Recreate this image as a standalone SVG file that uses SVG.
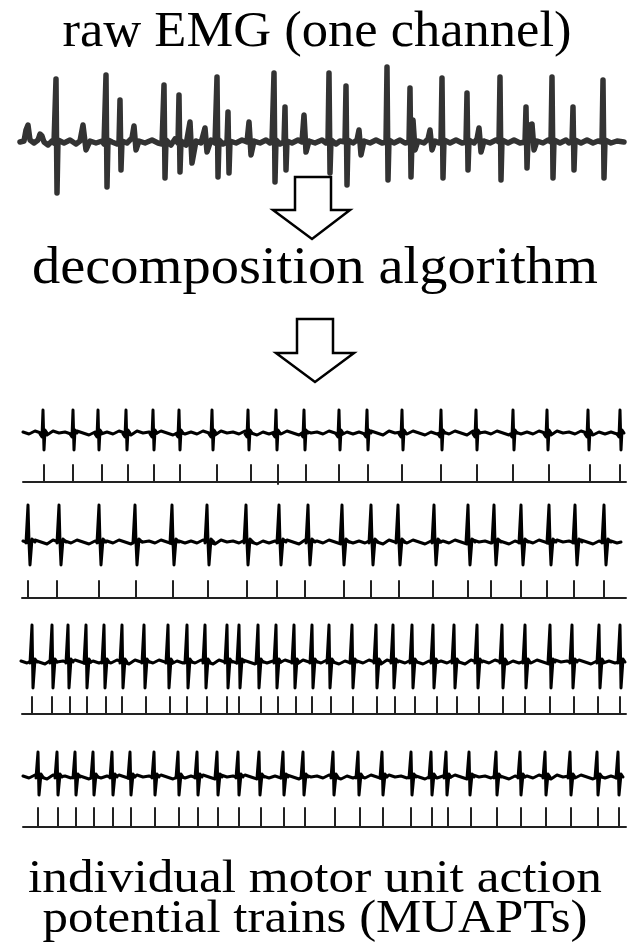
<svg xmlns="http://www.w3.org/2000/svg" xmlns:xlink="http://www.w3.org/1999/xlink" width="628" height="946" viewBox="0 0 628 946">
<style>
.lbl{font-family:"Liberation Serif","Times New Roman",serif;fill:#000;text-anchor:middle}
.emg{fill:none;stroke:#333;stroke-width:5.5;stroke-linejoin:round;stroke-linecap:round}
.tr{fill:none;stroke:#000;stroke-width:3;stroke-linejoin:round;stroke-linecap:round}
.tk{fill:none;stroke:#222;stroke-width:2}
.blk{fill:#fff;stroke:#000;stroke-width:2.5;stroke-linejoin:miter}
</style>
<defs>
<path id="noise" d="M0,-1 L6,1 L12,-2 L18,0 L24,2 L30,-2 L36,0 L42,-1 L48,1 L54,-2 L60,0 L66,2 L72,-1 L78,1 L84,-1 L90,1 L96,-2 L102,0 L108,2 L114,-2 L120,0 L126,-1 L132,1 L138,-2 L144,0 L150,2 L156,-1 L162,1 L168,-1 L174,1 L180,-2 L186,0 L192,2 L198,-2 L204,0 L210,-1 L216,1 L222,-2 L228,0 L234,2 L240,-1 L246,1 L252,-1 L258,1 L264,-2 L270,0 L276,2 L282,-2 L288,0 L294,-1 L300,1 L306,-2 L312,0 L318,2 L324,-1 L330,1 L336,-1 L342,1 L348,-2 L354,0 L360,2 L366,-2 L372,0 L378,-1 L384,1 L390,-2 L396,0 L402,2 L408,-1 L414,1 L420,-1 L426,1 L432,-2 L438,0 L444,2 L450,-2 L456,0 L462,-1 L468,1 L474,-2 L480,0 L486,2 L492,-1 L498,1 L504,-1 L510,1 L516,-2 L522,0 L528,2 L534,-2 L540,0 L546,-1 L552,1 L558,-2 L564,0 L570,2 L576,-1 L582,1 L588,-1 L594,1 L598,0"/>
<path id="sp1" d="M-3,1 L-1,4 L0,-23 L1,17 L2,-3 L4,0"/>
<path id="sp2" d="M-2,1 L0,-37 L1,0 L2,23 L4,-3 L7,0"/>
<path id="sp3" d="M-2,1 L0,-37 L1,26 L3,-3 L5,0"/>
<path id="sp4" d="M-2,1 L0,-25 L1,18 L3,-3 L5,0"/>
</defs>
<rect width="628" height="946" fill="#fff"/>

<g id="title"><text class="lbl" x="317" y="46" font-size="51" textLength="509" lengthAdjust="spacingAndGlyphs">raw EMG (one channel)</text></g>

<g id="raw-emg">
<path class="emg" d="M20,142 L24,141 L26,130 L28,125 L30,140 L34,143 L38,140 L40,134 L42,136 L44,142 L48,145 L52,141 L54,143 L56,79 L57,193 L58,140 L64,143 L70,140 L76,144 L80,141 L83,125 L86,150 L90,141 L96,143 L102,141 L104,144 L106,75 L107,187 L108,140 L112,142 L117,144 L119,142 L120,100 L121,170 L122,141 L127,143 L132,138 L134,126 L136,150 L139,141 L145,143 L152,140 L158,143 L162,144 L164,85 L165,178 L166,140 L171,145 L175,139 L178,143 L179,95 L180,172 L181,141 L186,145 L190,122 L192,163 L196,141 L201,143 L205,128 L207,152 L211,140 L215,143 L217,77 L218,177 L219,140 L223,144 L227,142 L228,112 L229,173 L230,141 L236,143 L242,140 L247,142 L249,122 L251,155 L254,141 L260,143 L266,140 L270,143 L272,142 L274,73 L275,182 L276,140 L280,144 L284,142 L285,107 L286,170 L287,141 L292,143 L298,140 L302,142 L304,115 L306,152 L309,141 L315,143 L322,140 L326,143 L328,142 L329,73 L330,173 L331,140 L336,144 L340,141 L345,142 L346,86 L347,185 L348,140 L353,143 L357,140 L359,130 L361,155 L364,141 L370,143 L376,140 L382,143 L386,142 L387,67 L388,180 L389,140 L394,143 L400,140 L405,143 L409,142 L410,88 L411,177 L412,140 L413,120 L415,150 L418,141 L424,143 L428,139 L430,130 L432,150 L435,141 L439,143 L441,142 L442,78 L443,178 L444,140 L450,143 L456,140 L462,143 L466,142 L467,93 L468,170 L469,140 L474,143 L477,139 L479,128 L481,152 L484,141 L490,143 L496,140 L499,142 L500,77 L501,180 L502,140 L508,143 L514,140 L520,143 L525,142 L526,107 L527,168 L528,140 L530,125 L532,124 L534,150 L537,141 L543,143 L548,140 L551,142 L552,77 L553,178 L554,140 L560,143 L566,140 L569,143 L572,142 L573,107 L574,170 L575,140 L581,143 L587,140 L593,143 L598,141 L602,142 L603,80 L604,178 L605,140 L611,143 L617,141 L624,142"/>
</g>

<g id="decomposition"><text class="lbl" x="315" y="283" font-size="53" textLength="566" lengthAdjust="spacingAndGlyphs">decomposition algorithm</text></g>

<g id="connectors">
<polygon id="arrow1" class="blk" points="295,177 331,177 331,210 350,210 312,239 273,210 295,210"/>
<polygon id="arrow2" class="blk" points="297,319 333,319 333,353 354,353 315,382 276,353 297,353"/>
</g>

<g id="train1" class="tr">
<use href="#noise" x="23" y="433"/>
<use href="#sp1" x="43" y="433"/><use href="#sp1" x="73" y="433"/><use href="#sp1" x="98" y="433"/><use href="#sp1" x="126" y="433"/><use href="#sp1" x="153" y="433"/><use href="#sp1" x="179" y="433"/><use href="#sp1" x="212" y="433"/><use href="#sp1" x="248" y="433"/><use href="#sp1" x="276" y="433"/><use href="#sp1" x="304" y="433"/><use href="#sp1" x="339" y="433"/><use href="#sp1" x="367" y="433"/><use href="#sp1" x="402" y="433"/><use href="#sp1" x="441" y="433"/><use href="#sp1" x="476" y="433"/><use href="#sp1" x="513" y="433"/><use href="#sp1" x="547" y="433"/><use href="#sp1" x="588" y="433"/><use href="#sp1" x="620" y="433"/>
<path class="tk" d="M23,482 H626 M44,465 V482 M73,465 V482 M102,465 V482 M128,465 V482 M154,465 V482 M180,465 V482 M217,465 V482 M251,465 V482 M278,465 V484 M306,465 V482 M339,465 V482 M368,465 V482 M402,465 V482 M441,465 V482 M477,465 V482 M513,465 V482 M549,465 V482 M590,465 V482 M620,465 V482"/>
</g>

<g id="train2" class="tr">
<use href="#noise" x="23" y="542"/>
<use href="#sp2" x="28" y="542"/><use href="#sp2" x="59" y="542"/><use href="#sp2" x="99" y="542"/><use href="#sp2" x="135" y="542"/><use href="#sp2" x="172" y="542"/><use href="#sp2" x="207" y="542"/><use href="#sp2" x="246" y="542"/><use href="#sp2" x="279" y="542"/><use href="#sp2" x="308" y="542"/><use href="#sp2" x="342" y="542"/><use href="#sp2" x="371" y="542"/><use href="#sp2" x="398" y="542"/><use href="#sp2" x="434" y="542"/><use href="#sp2" x="468" y="542"/><use href="#sp2" x="494" y="542"/><use href="#sp2" x="521" y="542"/><use href="#sp2" x="549" y="542"/><use href="#sp2" x="575" y="542"/><use href="#sp2" x="604" y="542"/>
<path class="tk" d="M22,598 H626 M28,581 V598 M57,581 V598 M99,581 V598 M136,581 V598 M173,581 V598 M208,581 V598 M247,581 V598 M277,581 V598 M305,581 V598 M344,581 V598 M371,581 V598 M399,581 V598 M433,581 V598 M468,581 V598 M491,581 V598 M521,581 V598 M547,581 V598 M574,581 V598 M604,581 V598"/>
</g>

<g id="train3" class="tr">
<use href="#noise" x="21" y="662"/>
<use href="#sp3" x="32" y="662"/><use href="#sp3" x="52" y="662"/><use href="#sp3" x="68" y="662"/><use href="#sp3" x="86" y="662"/><use href="#sp3" x="104" y="662"/><use href="#sp3" x="122" y="662"/><use href="#sp3" x="144" y="662"/><use href="#sp3" x="168" y="662"/><use href="#sp3" x="187" y="662"/><use href="#sp3" x="205" y="662"/><use href="#sp3" x="227" y="662"/><use href="#sp3" x="239" y="662"/><use href="#sp3" x="258" y="662"/><use href="#sp3" x="276" y="662"/><use href="#sp3" x="294" y="662"/><use href="#sp3" x="312" y="662"/><use href="#sp3" x="329" y="662"/><use href="#sp3" x="352" y="662"/><use href="#sp3" x="376" y="662"/><use href="#sp3" x="393" y="662"/><use href="#sp3" x="412" y="662"/><use href="#sp3" x="433" y="662"/><use href="#sp3" x="454" y="662"/><use href="#sp3" x="477" y="662"/><use href="#sp3" x="502" y="662"/><use href="#sp3" x="525" y="662"/><use href="#sp3" x="550" y="662"/><use href="#sp3" x="572" y="662"/><use href="#sp3" x="599" y="662"/><use href="#sp3" x="620" y="662"/>
<path class="tk" d="M22,714 H626 M32,697 V714 M52,697 V714 M70,697 V714 M87,697 V714 M106,697 V714 M122,697 V714 M146,697 V714 M170,697 V714 M187,697 V714 M207,697 V714 M227,697 V714 M239,697 V714 M261,697 V714 M278,697 V714 M296,697 V714 M312,697 V714 M331,697 V714 M353,697 V714 M377,697 V714 M395,697 V714 M415,697 V714 M437,697 V714 M457,697 V714 M479,697 V714 M503,697 V714 M525,697 V714 M550,697 V714 M574,697 V714 M598,697 V714 M620,697 V714"/>
</g>

<g id="train4" class="tr">
<use href="#noise" x="23" y="777"/>
<use href="#sp4" x="38" y="777"/><use href="#sp4" x="57" y="777"/><use href="#sp4" x="75" y="777"/><use href="#sp4" x="93" y="777"/><use href="#sp4" x="112" y="777"/><use href="#sp4" x="130" y="777"/><use href="#sp4" x="154" y="777"/><use href="#sp4" x="178" y="777"/><use href="#sp4" x="197" y="777"/><use href="#sp4" x="217" y="777"/><use href="#sp4" x="238" y="777"/><use href="#sp4" x="259" y="777"/><use href="#sp4" x="283" y="777"/><use href="#sp4" x="303" y="777"/><use href="#sp4" x="333" y="777"/><use href="#sp4" x="358" y="777"/><use href="#sp4" x="382" y="777"/><use href="#sp4" x="411" y="777"/><use href="#sp4" x="431" y="777"/><use href="#sp4" x="446" y="777"/><use href="#sp4" x="469" y="777"/><use href="#sp4" x="496" y="777"/><use href="#sp4" x="520" y="777"/><use href="#sp4" x="545" y="777"/><use href="#sp4" x="570" y="777"/><use href="#sp4" x="597" y="777"/><use href="#sp4" x="618" y="777"/>
<path class="tk" d="M23,827 H626 M38,808 V827 M58,808 V827 M76,808 V827 M94,808 V827 M113,808 V827 M131,808 V827 M155,808 V827 M179,808 V827 M198,808 V827 M218,808 V827 M239,808 V827 M261,808 V827 M284,808 V827 M305,808 V827 M335,808 V827 M360,808 V827 M383,808 V827 M411,808 V827 M432,808 V827 M448,808 V827 M471,808 V827 M497,808 V827 M521,808 V827 M546,808 V827 M571,808 V827 M598,808 V827 M619,808 V827"/>
</g>

<g id="caption">
<text class="lbl" x="315" y="892" font-size="47" textLength="574" lengthAdjust="spacingAndGlyphs">individual motor unit action</text>
<text class="lbl" x="315" y="932" font-size="47" textLength="545" lengthAdjust="spacingAndGlyphs">potential trains (MUAPTs)</text>
</g>
</svg>
